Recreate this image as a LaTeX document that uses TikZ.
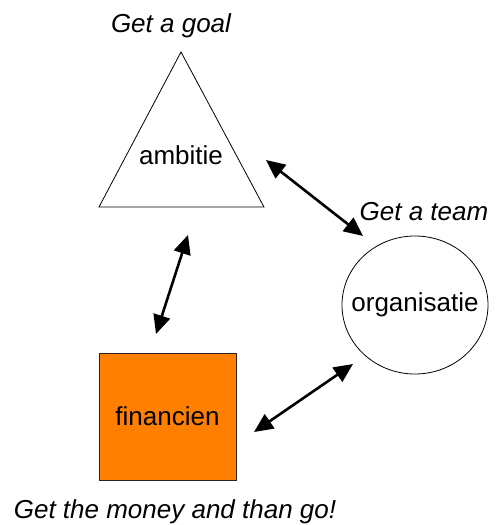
\documentclass[tikz,border=0pt]{standalone}
\usepackage{fontspec}
\setmainfont{Liberation Sans}
\usepackage{tikz}
\usetikzlibrary{arrows.meta, positioning}
\definecolor{geld}{RGB}{255,128,0}
\tikzset{
  twee/.style={{Triangle[length=19pt,width=17pt]}-{Triangle[length=19pt,width=17pt]}, line width=2.6pt},
  motto/.style={font=\fontsize{26}{31}\selectfont\itshape},
  woord/.style={font=\fontsize{26}{31}\selectfont}
}
\begin{document}
\begin{tikzpicture}[x=1pt, y=-1pt]
  \useasboundingbox (0,0) rectangle (501,525);
  % vormen
  \draw[line width=0.8pt] (99,207) -- (181,52) -- (264,207) -- cycle;
  \node[woord] (amb) at (181,155) {ambitie};
  \draw[line width=0.8pt] (415,305) ellipse (73 and 69);
  \node[woord] (org) at (415,305) {organisatie};
  \draw[fill=geld, draw=black!85, line width=0.8pt] (99,353) rectangle (236,480);
  \node[woord] (fin) at (167.5,416) {financien};
  % opschriften
  \node[motto] (goal) at (171,26) {Get a goal};
  \node[motto] (team) at (424,212) {Get a team};
  \node[motto] (money) at (175,512) {Get the money and than go!};
  % pijlen
  \coordinate (a1) at (266,160);
  \coordinate (o1) at (363,236);
  \coordinate (a2) at (188,235);
  \coordinate (f1) at (156,334);
  \coordinate (f2) at (254,432);
  \coordinate (o2) at (353,364);
  \draw[twee] (a1) -- (o1);
  \draw[twee] (a2) -- (f1);
  \draw[twee] (f2) -- (o2);
\end{tikzpicture}
\end{document}
